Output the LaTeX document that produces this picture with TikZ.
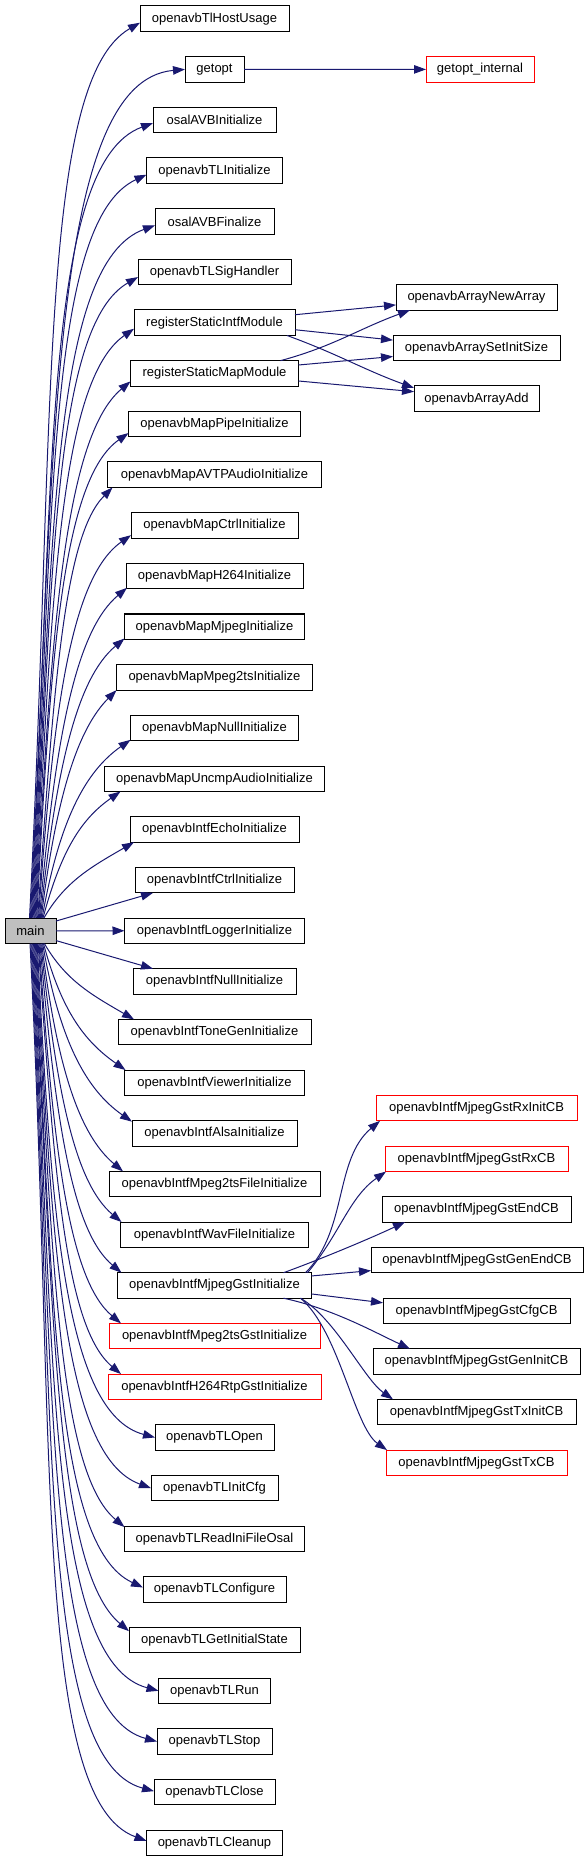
\documentclass[tikz,border=0pt]{standalone}
\usepackage{fontspec}
\setmainfont{Liberation Sans}
\usetikzlibrary{arrows.meta}
\definecolor{navy}{HTML}{191970}
\definecolor{mgray}{HTML}{BFBFBF}
\tikzset{
  fbox/.style={draw=black, fill=white, line width=1pt, inner sep=0pt, outer sep=0pt,
    minimum height=25.5pt, font=\fontsize{13}{15}\selectfont, anchor=center},
  cedge/.style={draw=navy, line width=1pt, -{Triangle[length=12pt,width=8.5pt]}},
}
\begin{document}
\begin{tikzpicture}[x=1pt,y=1pt]
\useasboundingbox (0,0) rectangle (588,-1861);
% main
\node[fbox, fill=mgray, minimum width=51] (main) at (30.5,-930.8) {main};
% middle column
\foreach \i/\w/\t/\c in {
 0/149/openavbTlHostUsage/black,
 1/59/getopt/black,
 2/123/osalAVBInitialize/black,
 3/136/openavbTLInitialize/black,
 4/119/osalAVBFinalize/black,
 5/153/openavbTLSigHandler/black,
 6/161/registerStaticIntfModule/black,
 7/168/registerStaticMapModule/black,
 8/172/openavbMapPipeInitialize/black,
 9/214/openavbMapAVTPAudioInitialize/black,
 10/167/openavbMapCtrlInitialize/black,
 11/177/openavbMapH264Initialize/black,
 12/180/openavbMapMjpegInitialize/black,
 13/196/openavbMapMpeg2tsInitialize/black,
 14/168/openavbMapNullInitialize/black,
 15/220/openavbMapUncmpAudioInitialize/black,
 16/169/openavbIntfEchoInitialize/black,
 17/159/openavbIntfCtrlInitialize/black,
 18/180/openavbIntfLoggerInitialize/black,
 19/163/openavbIntfNullInitialize/black,
 20/193/openavbIntfToneGenInitialize/black,
 21/180/openavbIntfViewerInitialize/black,
 22/165/openavbIntfAlsaInitialize/black,
 23/211/openavbIntfMpeg2tsFileInitialize/black,
 24/188/openavbIntfWavFileInitialize/black,
 25/194/openavbIntfMjpegGstInitialize/black,
 26/211/openavbIntfMpeg2tsGstInitialize/red,
 27/213/openavbIntfH264RtpGstInitialize/red,
 28/119/openavbTLOpen/black,
 29/127/openavbTLInitCfg/black,
 30/180/openavbTLReadIniFileOsal/black,
 31/143/openavbTLConfigure/black,
 32/171/openavbTLGetInitialState/black,
 33/112/openavbTLRun/black,
 34/115/openavbTLStop/black,
 35/121/openavbTLClose/black,
 36/136/openavbTLCleanup/black}
 {\node[fbox, draw=\c, minimum width=\w] (n\i) at (214.5,{-18.7-50.67*\i}) {\t};}
% right column
\node[fbox, draw=red, minimum width=108] (gi) at (480,-69.4) {getopt\_internal};
\node[fbox, minimum width=161] (na) at (476.5,-297.4) {openavbArrayNewArray};
\node[fbox, minimum width=167] (ns) at (476.5,-348.1) {openavbArraySetInitSize};
\node[fbox, minimum width=125] (aa) at (476.5,-398.7) {openavbArrayAdd};
\node[fbox, draw=red, minimum width=201] (c1) at (476.5,-1108.1) {openavbIntfMjpegGstRxInitCB};
\node[fbox, draw=red, minimum width=183] (c2) at (476.5,-1158.8) {openavbIntfMjpegGstRxCB};
\node[fbox, minimum width=189] (c3) at (476.5,-1209.4) {openavbIntfMjpegGstEndCB};
\node[fbox, minimum width=212] (c4) at (477,-1260.1) {openavbIntfMjpegGstGenEndCB};
\node[fbox, minimum width=187] (c5) at (476.5,-1310.8) {openavbIntfMjpegGstCfgCB};
\node[fbox, minimum width=207] (c6) at (476.5,-1361.5) {openavbIntfMjpegGstGenInitCB};
\node[fbox, minimum width=199] (c7) at (476.5,-1412.1) {openavbIntfMjpegGstTxInitCB};
\node[fbox, draw=red, minimum width=181] (c8) at (476.5,-1462.8) {openavbIntfMjpegGstTxCB};
% edges from main, upward
\draw[cedge] ([xshift=-1]main.north) to[out=87,in=210,out distance=492,in distance=118] ([yshift=-4]n0.west);
\draw[cedge] ([xshift=-0.1]main.north) to[out=87,in=185,out distance=467,in distance=136] (n1.west);
\draw[cedge] ([xshift=0.8]main.north) to[out=87,in=200,out distance=437,in distance=117] ([yshift=-3]n2.west);
\draw[cedge] ([xshift=1.7]main.north) to[out=87,in=205,out distance=409,in distance=109] ([yshift=-4]n3.west);
\draw[cedge] ([xshift=2.6]main.north) to[out=87,in=200,out distance=381,in distance=110] ([yshift=-4]n4.west);
\draw[cedge] ([xshift=3.5]main.north) to[out=87,in=210,out distance=353,in distance=97] ([yshift=-5]n5.west);
\draw[cedge] ([xshift=4.4]main.north) to[out=87,in=215,out distance=324,in distance=91] ([yshift=-6]n6.west);
\draw[cedge] ([xshift=5.3]main.north) to[out=87,in=220,out distance=295,in distance=85] ([yshift=-8]n7.west);
\draw[cedge] ([xshift=6.2]main.north) to[out=87,in=215,out distance=267,in distance=80] ([yshift=-9]n8.west);
\draw[cedge] ([xshift=7.1]main.north) to[out=86,in=225,out distance=237,in distance=68] ([xshift=5]n9.south west);
\draw[cedge] ([xshift=8]main.north) to[out=86,in=215,out distance=211,in distance=73] ([yshift=3]n10.south west);
\draw[cedge] ([xshift=8.9]main.north) to[out=85,in=220,out distance=182,in distance=67] ([shift={(1,1)}]n11.south west);
\draw[cedge] ([xshift=9.8]main.north) to[out=84,in=220,out distance=153,in distance=62] ([yshift=1]n12.south west);
\draw[cedge] ([xshift=10.7]main.north) to[out=83,in=225,out distance=125,in distance=54] (n13.south west);
\draw[cedge] ([xshift=11.6]main.north) to[out=80,in=215,out distance=98,in distance=56] ([yshift=1]n14.south west);
\draw[cedge] ([xshift=12.5]main.north) to[out=75,in=215,out distance=70,in distance=48] ([xshift=16]n15.south west);
\draw[cedge] ([xshift=13.4]main.north) to[out=60,in=210,out distance=42,in distance=50] ([xshift=4]n16.south west);
\draw[cedge] ([yshift=-3]main.north east) -- ([xshift=18]n17.south west);
\draw[cedge] (main.east) -- (n18.west);
\draw[cedge] ([yshift=3]main.south east) -- ([xshift=20]n19.north west);
% edges from main, downward
\draw[cedge] ([xshift=13.9]main.south) to[out=-60,in=150,out distance=42,in distance=50] ([xshift=16]n20.north west);
\draw[cedge] ([xshift=13]main.south) to[out=-75,in=145,out distance=70,in distance=50] ([xshift=1]n21.north west);
\draw[cedge] ([xshift=12.1]main.south) to[out=-80,in=145,out distance=98,in distance=57] ([yshift=-1]n22.north west);
\draw[cedge] ([xshift=11.2]main.south) to[out=-83,in=140,out distance=125,in distance=57] ([xshift=14]n23.north west);
\draw[cedge] ([xshift=10.3]main.south) to[out=-84,in=140,out distance=153,in distance=60] ([xshift=1]n24.north west);
\draw[cedge] ([xshift=9.4]main.south) to[out=-85,in=140,out distance=181,in distance=64] ([xshift=4]n25.north west);
\draw[cedge] ([xshift=8.5]main.south) to[out=-86,in=140,out distance=209,in distance=68] ([xshift=12]n26.north west);
\draw[cedge] ([xshift=7.6]main.south) to[out=-86,in=140,out distance=237,in distance=72] ([xshift=13]n27.north west);
\draw[cedge] ([xshift=6.7]main.south) to[out=-87,in=165,out distance=272,in distance=94] (n28.west);
\draw[cedge] ([xshift=5.8]main.south) to[out=-87,in=160,out distance=300,in distance=95] (n29.west);
\draw[cedge] ([xshift=4.9]main.south) to[out=-87,in=140,out distance=320,in distance=86] ([yshift=-1]n30.north west);
\draw[cedge] ([xshift=4]main.south) to[out=-87,in=155,out distance=354,in distance=99] ([yshift=2]n31.west);
\draw[cedge] ([xshift=3.1]main.south) to[out=-87,in=140,out distance=378,in distance=96] ([yshift=9]n32.west);
\draw[cedge] ([xshift=2.2]main.south) to[out=-87,in=165,out distance=411,in distance=115] (n33.west);
\draw[cedge] ([xshift=1.3]main.south) to[out=-87,in=165,out distance=439,in distance=118] (n34.west);
\draw[cedge] ([xshift=0.4]main.south) to[out=-87,in=165,out distance=466,in distance=121] ([yshift=1]n35.west);
\draw[cedge] ([xshift=-0.5]main.south) to[out=-87,in=160,out distance=494,in distance=121] ([yshift=2]n36.west);
% secondary edges
\draw[cedge] (n1.east) -- (gi.west);
\draw[cedge] ([yshift=8]n6.east) -- ([yshift=-7.5]na.west);
\draw[cedge] ([yshift=-7]n6.east) -- ([yshift=8]ns.west);
\draw[cedge] ([xshift=-8]n6.south east) to[out=-20,in=160] ([yshift=-2]aa.north west);
\draw[cedge] ([xshift=-18]n7.north east) to[out=15,in=200] ([xshift=14]na.south west);
\draw[cedge] ([yshift=8.4]n7.east) -- ([yshift=-8.4]ns.west);
\draw[cedge] ([yshift=-7.6]n7.east) -- ([yshift=7]aa.west);
\draw[cedge] ([xshift=-6]n25.north east) to[out=45,in=220,out distance=60,in distance=60] ([xshift=4]c1.south west);
\draw[cedge] ([xshift=-4]n25.north east) to[out=50,in=215,out distance=50,in distance=45] ([xshift=1]c2.south west);
\draw[cedge] ([xshift=-28]n25.north east) to[out=20,in=205,out distance=40,in distance=40] ([xshift=23]c3.south west);
\draw[cedge] ([yshift=9.5]n25.east) -- ([yshift=-10.5]c4.west);
\draw[cedge] ([yshift=-8.5]n25.east) -- ([yshift=8]c5.west);
\draw[cedge] ([xshift=-28]n25.south east) to[out=-12,in=155,out distance=50,in distance=40] ([xshift=37]c6.north west);
\draw[cedge] ([xshift=-11]n25.south east) to[out=-30,in=145,out distance=40,in distance=35] ([xshift=16]c7.north west);
\draw[cedge] ([xshift=-11]n25.south east) to[out=-40,in=145,out distance=50,in distance=40] ([xshift=1]c8.north west);
\end{tikzpicture}
\end{document}
